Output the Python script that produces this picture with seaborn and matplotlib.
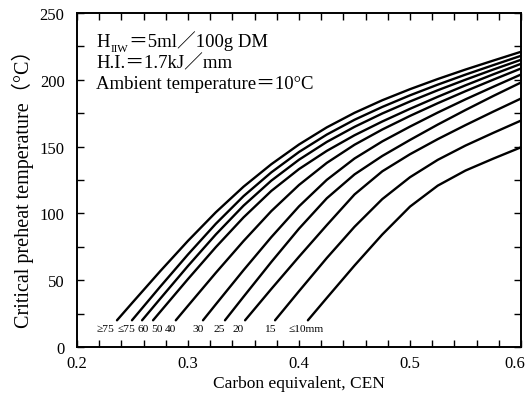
import matplotlib
matplotlib.use("Agg")
import matplotlib.pyplot as plt
import matplotlib.transforms as mtransforms
from matplotlib.ticker import MultipleLocator, FixedLocator
import numpy as np
import pandas as pd
import seaborn as sns

# Plate thickness labels, one per curve (thickest first)
thickness_labels = ["≥75", "≤75", "60", "50", "40", "30", "25", "20", "15", "≤10mm"]

# Critical preheat temperature (°C) against carbon equivalent CEN, per plate thickness
cen_ge75 = [0.236, 0.25, 0.275, 0.30, 0.325, 0.35, 0.375, 0.40, 0.425, 0.45, 0.475, 0.50, 0.525, 0.55, 0.575, 0.60]
temp_ge75 = [20, 33.3, 56.8, 79.5, 100.8, 120.0, 136.8, 151.6, 164.4, 175.3, 184.7, 193.0, 200.6, 207.7, 214.4, 221.0]

cen_le75 = [0.2495, 0.275, 0.30, 0.325, 0.35, 0.375, 0.40, 0.425, 0.45, 0.475, 0.50, 0.525, 0.55, 0.575, 0.60]
temp_le75 = [20, 45.2, 69.3, 92.2, 112.9, 130.7, 146.0, 159.0, 170.1, 179.7, 188.4, 196.4, 203.9, 211.0, 218.0]

cen_60 = [0.2586, 0.275, 0.30, 0.325, 0.35, 0.375, 0.40, 0.425, 0.45, 0.475, 0.50, 0.525, 0.55, 0.575, 0.60]
temp_60 = [20, 36.2, 60.7, 84.2, 105.8, 124.5, 140.2, 153.5, 164.8, 174.8, 183.8, 192.2, 200.1, 207.7, 215.0]

cen_50 = [0.2685, 0.275, 0.30, 0.325, 0.35, 0.375, 0.40, 0.425, 0.45, 0.475, 0.50, 0.525, 0.55, 0.575, 0.60]
temp_50 = [20, 26.4, 50.9, 74.7, 97.0, 116.8, 133.2, 146.8, 158.5, 168.8, 178.3, 187.3, 195.9, 204.1, 212.0]

cen_40 = [0.289, 0.30, 0.325, 0.35, 0.375, 0.40, 0.425, 0.45, 0.475, 0.50, 0.525, 0.55, 0.575, 0.60]
temp_40 = [20, 30.9, 55.5, 79.3, 101.7, 121.3, 137.8, 151.4, 162.8, 173.0, 182.5, 191.5, 200.1, 208.5]

cen_30 = [0.3135, 0.325, 0.35, 0.375, 0.40, 0.425, 0.45, 0.475, 0.50, 0.525, 0.55, 0.575, 0.60]
temp_30 = [20, 31.9, 57.5, 82.2, 105.3, 125.1, 141.1, 153.9, 165.0, 175.5, 185.4, 194.8, 204.0]

cen_25 = [0.3333, 0.35, 0.375, 0.40, 0.425, 0.45, 0.475, 0.50, 0.525, 0.55, 0.575, 0.60]
temp_25 = [20, 37.6, 63.6, 88.6, 111.3, 129.2, 143.0, 155.0, 166.5, 177.4, 187.9, 198.0]

cen_20 = [0.3514, 0.375, 0.40, 0.425, 0.45, 0.475, 0.50, 0.525, 0.55, 0.575, 0.60]
temp_20 = [20, 43.4, 67.6, 91.2, 114.2, 131.5, 144.3, 155.6, 166.1, 176.2, 186.0]

cen_15 = [0.3784, 0.40, 0.425, 0.45, 0.475, 0.50, 0.525, 0.55, 0.575, 0.60]
temp_15 = [20, 41.8, 66.6, 90.0, 110.7, 127.1, 140.1, 150.8, 160.3, 169.5]

cen_le10 = [0.408, 0.425, 0.45, 0.475, 0.50, 0.525, 0.55, 0.575, 0.60]
temp_le10 = [20, 36.7, 61.0, 84.2, 105.1, 120.8, 132.1, 141.0, 149.5]

curve_cen = [cen_ge75, cen_le75, cen_60, cen_50, cen_40, cen_30, cen_25, cen_20, cen_15, cen_le10]
curve_temp = [temp_ge75, temp_le75, temp_60, temp_50, temp_40, temp_30, temp_25, temp_20, temp_15, temp_le10]

# Where each thickness label sits below the foot of its curve
label_cen = [0.2257, 0.2445, 0.2597, 0.2722, 0.2840, 0.3090, 0.3280, 0.3450, 0.3740, 0.4063]
label_temp = 14.0

x_tick_values = [0.2, 0.3, 0.4, 0.5, 0.6]
x_tick_labels = ["0.2", "0.3", "0.4", "0.5", "0.6"]

frames = []
for lab, xs, ys in zip(thickness_labels, curve_cen, curve_temp):
    frames.append(pd.DataFrame({"cen": xs, "temp": ys, "plate": lab}))
df = pd.concat(frames, ignore_index=True)

sns.set_theme(style="ticks")
plt.rcParams["font.family"] = ["Liberation Serif", "Noto Sans CJK JP", "DejaVu Serif"]
plt.rcParams["axes.edgecolor"] = "black"

fig = plt.figure(figsize=(5.29, 4.10), dpi=100)
fig.patch.set_facecolor("white")
ax = fig.add_axes([0.1456, 0.1512, 0.8393, 0.8146])
ax.set_facecolor("white")

sns.lineplot(data=df, x="cen", y="temp", hue="plate", hue_order=thickness_labels,
             palette=["black"] * len(thickness_labels), legend=False,
             linewidth=1.7, sort=False, ax=ax)

ax.set_xlim(0.2, 0.6)
ax.set_ylim(0, 250)
ax.xaxis.set_major_locator(FixedLocator(x_tick_values))
ax.xaxis.set_minor_locator(MultipleLocator(0.02))
ax.yaxis.set_major_locator(MultipleLocator(50))
ax.yaxis.set_minor_locator(MultipleLocator(25))
ax.set_xticklabels(x_tick_labels)

ax.tick_params(which="both", direction="in", top=True, right=True,
               length=5, width=1.0, color="black", labelsize=12, labelcolor="black")
ax.tick_params(axis="x", pad=6)
ax.tick_params(axis="y", pad=9)
for sp in ax.spines.values():
    sp.set_linewidth(1.4)
    sp.set_color("black")

# keep the last x tick label inside the figure
last = ax.get_xticklabels()[-1]
last.set_transform(last.get_transform() + mtransforms.ScaledTranslation(-6 / 100, 0, fig.dpi_scale_trans))

ax.set_xlabel("Carbon equivalent, CEN", fontsize=12.5, color="black")
ax.set_ylabel("Critical preheat temperature（°C）", fontsize=14.5, color="black")
ax.xaxis.set_label_coords(0.5, -0.085)
ax.yaxis.set_label_coords(-0.098, 0.49)

for lab, x in zip(thickness_labels, label_cen):
    ax.text(x, label_temp, lab, fontsize=8.2, ha="center", va="center", color="black")

# Test conditions block: H with IIW subscript, then the rest of each line
cond_x = 0.2171
cond_y = [225.0, 209.4, 193.8]
t_h = ax.text(cond_x, cond_y[0], "H", fontsize=13.5, ha="left", va="baseline", color="black")
t_sub = ax.annotate("IIW", xy=(1, cond_y[0]), xycoords=(t_h, "data"),
                    xytext=(0.5, -3.0), textcoords="offset points",
                    fontsize=8, ha="left", va="baseline", color="black")
ax.annotate("＝5ml／100g DM", xy=(1, cond_y[0]), xycoords=(t_sub, "data"),
            xytext=(0.5, 0), textcoords="offset points",
            fontsize=13.5, ha="left", va="baseline", color="black")
ax.text(cond_x, cond_y[1], "H.I.＝1.7kJ／mm", fontsize=13.5, ha="left", va="baseline", color="black")
ax.text(cond_x, cond_y[2], "Ambient temperature＝10°C", fontsize=13.5, ha="left", va="baseline", color="black")

fig.savefig("out.png", dpi=100, facecolor="white")
